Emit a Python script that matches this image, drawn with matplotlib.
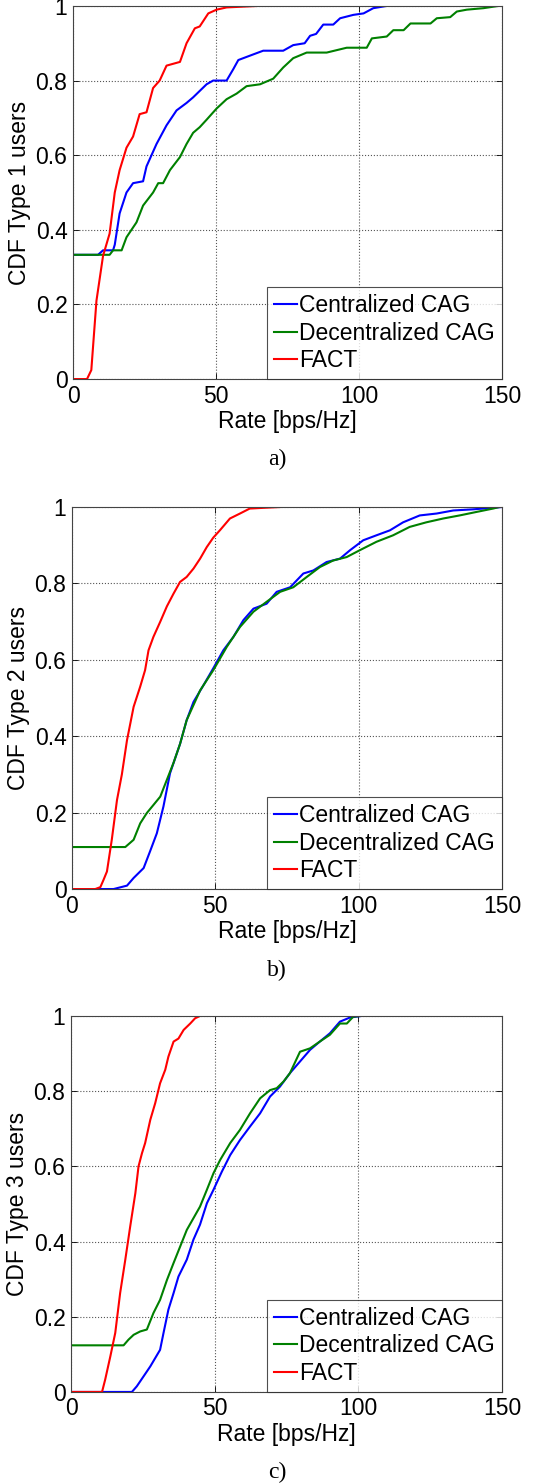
import matplotlib
matplotlib.use("Agg")
import matplotlib.pyplot as plt

plt.rcParams["font.family"] = ["Liberation Sans", "DejaVu Sans"]

# ---------------------------------------------------------------------------
# data (rate in bps/Hz, CDF value)

series_names = ["Centralized CAG", "Decentralized CAG", "FACT"]
series_colors = ["#0000ff", "#008000", "#ff0000"]

x_ticks = [0, 50, 100, 150]
y_ticks = [0, 0.2, 0.4, 0.6, 0.8, 1.0]
y_tick_labels = ["0", "0.2", "0.4", "0.6", "0.8", "1"]

# panel a) -- type 1 users
a_cent_x = [0, 8.75, 10.5, 14.0, 14.6, 16.3, 18.7, 21.0, 24.5, 25.7, 29.2, 32.7, 36.2,
            39.7, 42.0, 46.7, 49.0, 53.7, 56.0, 57.8, 63.0, 66.5, 73.5, 77.0, 81.0,
            82.9, 85.0, 87.5, 91.0, 93.4, 98.0, 101.6, 105.0, 109.7]
a_cent_y = [0.333, 0.333, 0.345, 0.345, 0.36, 0.444, 0.50, 0.525, 0.53, 0.57, 0.63, 0.68,
            0.72, 0.74, 0.755, 0.79, 0.80, 0.80, 0.83, 0.855, 0.87, 0.88, 0.88, 0.895,
            0.90, 0.92, 0.925, 0.95, 0.95, 0.967, 0.976, 0.98, 0.994, 1.0]
a_dec_x = [0, 12.8, 14.0, 17.0, 18.7, 22.2, 24.5, 28.0, 29.8, 31.5, 33.9, 37.4, 39.7,
           42.0, 44.3, 46.7, 50.2, 53.7, 57.2, 60.7, 65.4, 70.0, 73.5, 77.0, 81.7, 88.7,
           95.7, 102.7, 104.5, 109.7, 112.0, 115.6, 118.0, 125.0, 127.2, 131.9, 134.2,
           137.7, 143.5, 148.8]
a_dec_y = [0.333, 0.333, 0.345, 0.345, 0.38, 0.42, 0.465, 0.50, 0.525, 0.525, 0.56, 0.595,
           0.63, 0.66, 0.675, 0.695, 0.725, 0.75, 0.765, 0.785, 0.79, 0.805, 0.835, 0.86,
           0.875, 0.875, 0.888, 0.888, 0.913, 0.918, 0.935, 0.935, 0.953, 0.953, 0.967,
           0.97, 0.985, 0.99, 0.994, 1.0]
a_fact_x = [0, 4.9, 6.4, 8.2, 10.5, 12.8, 14.6, 16.3, 18.7, 21.0, 23.3, 25.7, 28.0, 30.3,
            32.7, 37.4, 39.7, 42.6, 44.3, 47.3, 50.2, 53.7, 64.8]
a_fact_y = [0, 0, 0.024, 0.21, 0.33, 0.39, 0.50, 0.56, 0.62, 0.65, 0.71, 0.715, 0.78, 0.80,
            0.84, 0.85, 0.90, 0.94, 0.945, 0.98, 0.99, 0.996, 1.0]

# panel b) -- type 2 users
b_cent_x = [0, 14.5, 19.2, 21.5, 25.0, 27.3, 29.6, 31.9, 34.2, 37.7, 40.0, 42.4, 45.9,
            49.3, 52.8, 56.3, 59.8, 63.3, 67.9, 71.4, 76.1, 80.7, 84.2, 88.8, 93.5, 97.0,
            101.6, 106.2, 110.9, 115.5, 121.3, 127.2, 133.0, 139.9, 146.9, 150.0]
b_cent_y = [0, 0, 0.009, 0.029, 0.055, 0.10, 0.146, 0.216, 0.303, 0.38, 0.442, 0.49, 0.534,
            0.578, 0.625, 0.66, 0.704, 0.734, 0.747, 0.778, 0.79, 0.826, 0.834, 0.856,
            0.865, 0.887, 0.913, 0.926, 0.939, 0.96, 0.978, 0.983, 0.991, 0.994, 0.998, 1.0]
b_dec_x = [0, 18.6, 21.5, 23.8, 26.1, 28.4, 30.8, 33.1, 35.4, 37.7, 40.0, 44.7, 49.3, 54.0,
           58.6, 63.3, 67.9, 72.6, 77.2, 81.9, 86.5, 91.1, 95.8, 100.4, 106.2, 112.0,
           117.8, 123.6, 129.5, 135.2, 141.0, 146.9, 149.0]
b_dec_y = [0.11, 0.11, 0.129, 0.172, 0.199, 0.22, 0.242, 0.286, 0.33, 0.38, 0.442, 0.52,
           0.573, 0.634, 0.686, 0.726, 0.752, 0.778, 0.79, 0.817, 0.843, 0.86, 0.869,
           0.887, 0.909, 0.926, 0.948, 0.96, 0.97, 0.978, 0.987, 0.996, 1.0]
b_fact_x = [0, 8.1, 9.9, 11.0, 12.2, 13.9, 15.7, 17.4, 19.2, 21.5, 23.8, 25.5, 26.7, 28.4,
            30.8, 33.1, 35.4, 37.7, 40.0, 42.4, 44.7, 47.0, 49.3, 51.7, 55.1, 58.6, 62.0,
            67.0, 72.6]
b_fact_y = [0, 0, 0.005, 0.024, 0.046, 0.13, 0.233, 0.30, 0.39, 0.477, 0.53, 0.573, 0.625,
            0.66, 0.70, 0.74, 0.773, 0.804, 0.817, 0.839, 0.865, 0.895, 0.92, 0.94, 0.97,
            0.983, 0.996, 0.998, 1.0]

# panel c) -- type 3 users
c_cent_x = [0, 21.2, 22.9, 25.3, 27.6, 31.0, 32.2, 33.9, 35.7, 37.4, 40.3, 42.6, 44.9,
            47.3, 49.6, 52.5, 55.4, 58.8, 62.3, 65.8, 69.3, 72.7, 76.2, 79.7, 83.2, 86.6,
            90.1, 93.6, 97.1, 101.0]
c_cent_y = [0, 0, 0.015, 0.042, 0.068, 0.112, 0.157, 0.219, 0.263, 0.307, 0.352, 0.405,
            0.445, 0.502, 0.538, 0.586, 0.63, 0.67, 0.706, 0.741, 0.786, 0.812, 0.848,
            0.879, 0.91, 0.932, 0.954, 0.985, 0.996, 1.0]
c_dec_x = [0, 18.3, 20.0, 21.8, 24.1, 26.4, 28.7, 31.0, 33.4, 35.7, 38.0, 40.3, 42.6, 44.9,
           47.3, 49.6, 51.9, 55.4, 58.8, 62.3, 65.8, 69.3, 71.6, 74.0, 76.2, 79.7, 83.2,
           86.6, 90.1, 93.6, 96.0, 98.2, 100.5]
c_dec_y = [0.124, 0.124, 0.139, 0.152, 0.161, 0.166, 0.21, 0.245, 0.298, 0.343, 0.387,
           0.431, 0.462, 0.493, 0.538, 0.582, 0.617, 0.662, 0.697, 0.741, 0.781, 0.803,
           0.808, 0.826, 0.848, 0.905, 0.914, 0.932, 0.95, 0.98, 0.98, 0.998, 1.0]
c_fact_x = [0, 10.8, 11.9, 13.7, 15.4, 17.1, 18.9, 20.6, 22.4, 23.5, 24.7, 25.8, 27.6, 29.3,
            31.0, 32.8, 33.9, 35.7, 37.4, 39.2, 41.5, 43.2, 44.9]
c_fact_y = [0, 0, 0.033, 0.095, 0.157, 0.263, 0.352, 0.44, 0.529, 0.60, 0.635, 0.662,
            0.724, 0.768, 0.821, 0.857, 0.892, 0.932, 0.94, 0.963, 0.98, 0.994, 1.0]

panels = [
    ("CDF Type 1 users", "a)", [(a_cent_x, a_cent_y), (a_dec_x, a_dec_y), (a_fact_x, a_fact_y)]),
    ("CDF Type 2 users", "b)", [(b_cent_x, b_cent_y), (b_dec_x, b_dec_y), (b_fact_x, b_fact_y)]),
    ("CDF Type 3 users", "c)", [(c_cent_x, c_cent_y), (c_dec_x, c_dec_y), (c_fact_x, c_fact_y)]),
]

# axes boxes [left, bottom, width, height] in figure fractions, and caption heights
boxes = [
    [0.1347, 0.7444, 0.7915, 0.2516],
    [0.1328, 0.4005, 0.7934, 0.2576],
    [0.1310, 0.0614, 0.7952, 0.2535],
]
caption_y = [0.6905, 0.3459, 0.0074]

FS = 16.5

fig = plt.figure(figsize=(5.42, 14.83), dpi=100)

for (ylabel, caption, curves), box, cy in zip(panels, boxes, caption_y):
    ax = fig.add_axes(box)
    for (xs, ys), name, color in zip(curves, series_names, series_colors):
        ax.plot(xs, ys, color=color, linewidth=1.5, label=name)

    ax.set_xlim(0, 150)
    ax.set_ylim(0, 1)
    ax.set_xticks(x_ticks)
    ax.set_xticklabels([str(t) for t in x_ticks])
    ax.set_yticks(y_ticks)
    ax.set_yticklabels(y_tick_labels)
    ax.tick_params(direction="in", labelsize=FS, length=4, width=0.6, pad=4,
                   top=True, right=True)
    ax.grid(True, linestyle=":", color="#555555", linewidth=0.8)
    for s in ax.spines.values():
        s.set_color("#444444")
        s.set_linewidth(0.8)

    ax.set_xlabel("Rate [bps/Hz]", fontsize=FS, labelpad=2)
    ax.set_ylabel(ylabel, fontsize=FS, labelpad=3)

    leg = ax.legend(loc="lower right", fontsize=FS, frameon=True, fancybox=False,
                    borderaxespad=0, handlelength=1.0, handletextpad=0.1,
                    borderpad=0.3, labelspacing=0.2)
    leg.get_frame().set_edgecolor("#222222")
    leg.get_frame().set_linewidth(0.8)

    fig.text(0.511, cy, caption, ha="center", va="center", fontsize=17,
             family=["Liberation Serif", "DejaVu Serif"])

fig.savefig("out.png", dpi=100)
